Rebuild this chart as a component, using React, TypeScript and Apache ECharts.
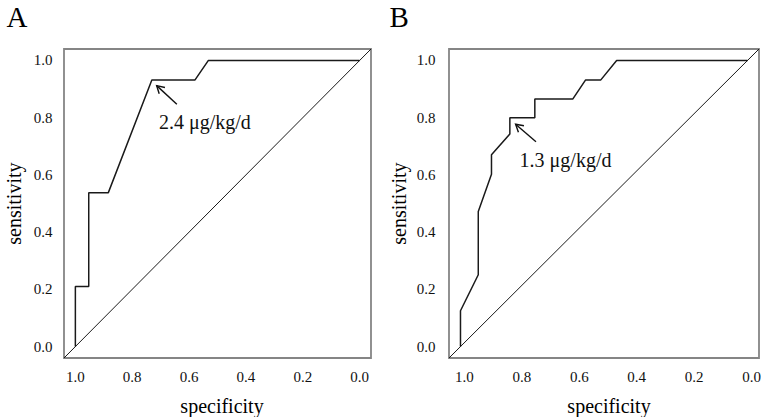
import React, { useEffect, useRef } from "react";
import * as echarts from "echarts";

const FF = "'Times New Roman', 'Liberation Serif', 'DejaVu Serif', serif";

// Panel A ROC curve (specificity, sensitivity)
const specA = [1, 1, 0.953, 0.953, 0.884, 0.731, 0.579, 0.532, 0];
const sensA = [0, 0.21, 0.21, 0.538, 0.538, 0.932, 0.932, 1, 1];

// Panel B ROC curve
const specB = [1, 1, 0.938, 0.938, 0.892, 0.892, 0.828, 0.828, 0.741, 0.741, 0.609, 0.564, 0.511, 0.456, 0];
const sensB = [0, 0.125, 0.251, 0.472, 0.602, 0.67, 0.743, 0.8, 0.8, 0.865, 0.865, 0.932, 0.932, 1, 1];

// axis extent (R-style 4% padding) and chance line across the full plotting region
const axisMin = -0.04;
const axisMax = 1.04;
const refSpec = [axisMax, axisMin];
const refSens = [axisMin, axisMax];

// tick values
const tickValues = [0, 0.2, 0.4, 0.6, 0.8, 1.0];

// annotations: [headSpec, headSens, tailSpec, tailSens, labelSpec, labelSens]
const annA = [0.714, 0.912, 0.643, 0.847, 0.706, 0.784];
const annB = [0.808, 0.777, 0.737, 0.716, 0.794, 0.652];
const annLabels = ["2.4 μg/kg/d", "1.3 μg/kg/d"];
const panelLetters = ["A", "B"];
const xTitle = "specificity";
const yTitle = "sensitivity";

const zip = (a: number[], b: number[]) => a.map((v, i) => [v, b[i]]);

function annotationSeries(idx: number, ann: number[], label: string) {
  return {
    type: "custom",
    xAxisIndex: idx,
    yAxisIndex: idx,
    silent: true,
    clip: false,
    data: [ann],
    encode: { x: [0, 2, 4], y: [1, 3, 5] },
    renderItem: (_params: any, api: any) => {
      const h = api.coord([api.value(0), api.value(1)]);
      const t = api.coord([api.value(2), api.value(3)]);
      const l = api.coord([api.value(4), api.value(5)]);
      const ang = Math.atan2(t[1] - h[1], t[0] - h[0]);
      const L = 8.5;
      const a = Math.PI / 6;
      const w1 = [h[0] + L * Math.cos(ang + a), h[1] + L * Math.sin(ang + a)];
      const w2 = [h[0] + L * Math.cos(ang - a), h[1] + L * Math.sin(ang - a)];
      return {
        type: "group",
        children: [
          {
            type: "line",
            shape: { x1: t[0], y1: t[1], x2: h[0], y2: h[1] },
            style: { stroke: "#111", lineWidth: 1.4 },
          },
          {
            type: "polyline",
            shape: { points: [w1, h, w2] },
            style: { stroke: "#111", lineWidth: 1.4, fill: null },
          },
          {
            type: "text",
            x: l[0],
            y: l[1],
            style: {
              text: label,
              font: `20px ${FF}`,
              fill: "#111",
              align: "left",
              verticalAlign: "middle",
            },
          },
        ],
      };
    },
  };
}

// tick labels drawn at the axes' own scale positions
function tickSeries(idx: number, yDist: number, xOffset: number) {
  const font = `15px ${FF}`;
  return [
    {
      type: "custom",
      xAxisIndex: idx,
      yAxisIndex: idx,
      silent: true,
      clip: false,
      data: tickValues.map((v) => [v, axisMin]),
      encode: { x: 0, y: 1 },
      renderItem: (_p: any, api: any) => {
        const c = api.coord([api.value(0), api.value(1)]);
        return {
          type: "text",
          x: c[0] + xOffset,
          y: c[1] + 18.5,
          style: {
            text: Number(api.value(0)).toFixed(1),
            font,
            fill: "#111",
            align: "center",
            verticalAlign: "middle",
          },
        };
      },
    },
    {
      type: "custom",
      xAxisIndex: idx,
      yAxisIndex: idx,
      silent: true,
      clip: false,
      data: tickValues.map((v) => [axisMax, v]),
      encode: { x: 0, y: 1 },
      renderItem: (_p: any, api: any) => {
        const c = api.coord([api.value(0), api.value(1)]);
        return {
          type: "text",
          x: c[0] - yDist,
          y: c[1],
          style: {
            text: Number(api.value(1)).toFixed(1),
            font,
            fill: "#111",
            align: "right",
            verticalAlign: "middle",
          },
        };
      },
    },
  ];
}

function makeAxes(idx: number) {
  const common = {
    gridIndex: idx,
    type: "value",
    min: axisMin,
    max: axisMax,
    axisLine: { show: false },
    axisTick: { show: false },
    splitLine: { show: false },
    axisLabel: { show: false },
  };
  return { x: { ...common, inverse: true }, y: { ...common } };
}

export default function App() {
  const ref = useRef<HTMLDivElement>(null);
  useEffect(() => {
    if (!ref.current) return;
    const chart = echarts.init(ref.current, undefined, { renderer: "svg" });
    const axA = makeAxes(0);
    const axB = makeAxes(1);
    const gridStyle = {
      show: true,
      borderColor: "#858585",
      borderWidth: 1.8,
      backgroundColor: "transparent",
      containLabel: false,
    };
    const curveStyle = { color: "#1a1a1a", width: 1.5 };
    const refStyle = { color: "#1a1a1a", width: 1 };
    const textStyle = (size: number) => ({
      font: `${size}px ${FF}`,
      fill: "#000",
    });
    chart.setOption({
      animation: false,
      backgroundColor: "#fff",
      grid: [
        { ...gridStyle, left: 64, top: 49, width: 307, height: 309 },
        { ...gridStyle, left: 449, top: 49, width: 310, height: 309 },
      ],
      xAxis: [axA.x, axB.x],
      yAxis: [axA.y, axB.y],
      graphic: [
        {
          type: "text",
          x: 6.5,
          y: 16.5,
          style: { ...textStyle(29), text: panelLetters[0], align: "left", verticalAlign: "middle" },
        },
        {
          type: "text",
          x: 389.5,
          y: 16.5,
          style: { ...textStyle(29), text: panelLetters[1], align: "left", verticalAlign: "middle" },
        },
        {
          type: "text",
          x: 13.5,
          y: 203.6,
          rotation: Math.PI / 2,
          style: { ...textStyle(20), text: yTitle, align: "center", verticalAlign: "middle" },
        },
        {
          type: "text",
          x: 398.5,
          y: 203.6,
          rotation: Math.PI / 2,
          style: { ...textStyle(20), text: yTitle, align: "center", verticalAlign: "middle" },
        },
        {
          type: "text",
          x: 222,
          y: 405.5,
          style: { ...textStyle(20), text: xTitle, align: "center", verticalAlign: "middle" },
        },
        {
          type: "text",
          x: 609,
          y: 405.5,
          style: { ...textStyle(20), text: xTitle, align: "center", verticalAlign: "middle" },
        },
      ],
      series: [
        {
          type: "line",
          xAxisIndex: 0,
          yAxisIndex: 0,
          data: zip(refSpec, refSens),
          symbol: "none",
          lineStyle: refStyle,
          silent: true,
        },
        {
          type: "line",
          xAxisIndex: 0,
          yAxisIndex: 0,
          data: zip(specA, sensA),
          symbol: "none",
          lineStyle: curveStyle,
          silent: true,
        },
        annotationSeries(0, annA, annLabels[0]),
        ...tickSeries(0, 11.5, 0),
        {
          type: "line",
          xAxisIndex: 1,
          yAxisIndex: 1,
          data: zip(refSpec, refSens),
          symbol: "none",
          lineStyle: refStyle,
          silent: true,
        },
        {
          type: "line",
          xAxisIndex: 1,
          yAxisIndex: 1,
          data: zip(specB, sensB),
          symbol: "none",
          lineStyle: curveStyle,
          silent: true,
        },
        annotationSeries(1, annB, annLabels[1]),
        ...tickSeries(1, 13.5, 4),
      ],
    });
    return () => chart.dispose();
  }, []);
  return (
    <div
      ref={ref}
      style={{ position: "fixed", left: 0, top: 0, width: 761, height: 417, background: "#fff" }}
    />
  );
}
